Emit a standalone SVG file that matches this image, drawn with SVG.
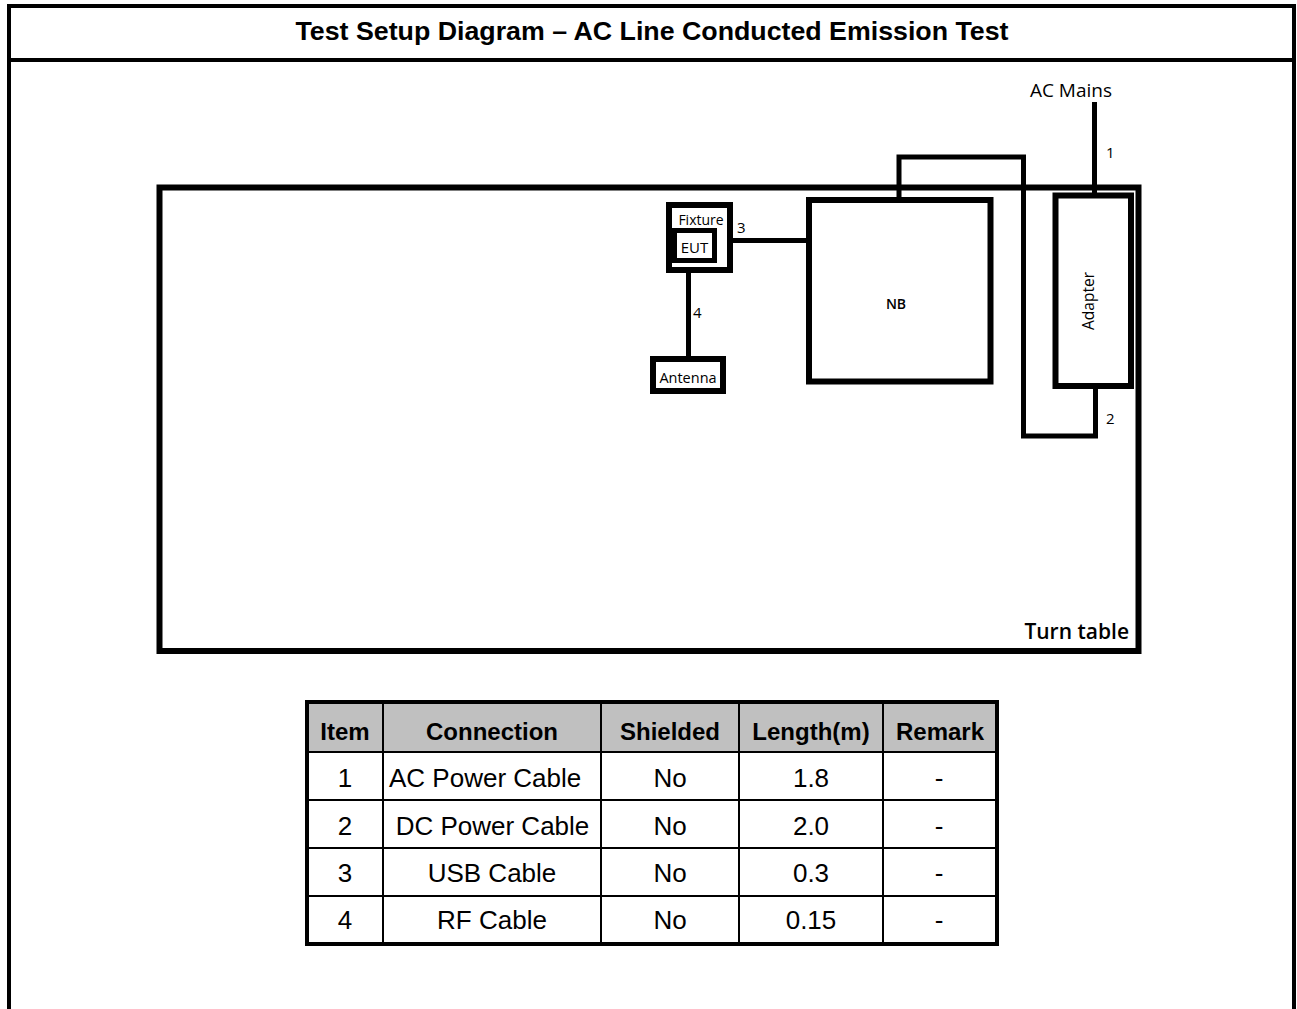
<svg xmlns="http://www.w3.org/2000/svg" width="1297" height="1009" viewBox="0 0 1297 1009">
<style>
.frame{fill:none;stroke:#000;stroke-width:4}
.box{fill:#fff;stroke:#000;stroke-width:6}
.cable{fill:none;stroke:#000;stroke-width:5}
.lbl{font-family:"Open Sans","Noto Sans",sans-serif;fill:#000}
.th{font-family:"Liberation Sans",Arial,sans-serif;font-weight:bold;font-size:24px;text-anchor:middle;fill:#000}
.td{font-family:"Liberation Sans",Arial,sans-serif;font-size:26px;text-anchor:middle;fill:#000}
.grid{stroke:#000;stroke-width:2}
</style>
<rect width="1297" height="1009" fill="#fff"/>
<g id="frame">
<path class="frame" d="M9,1009 V6 H1294 V1009"/>
<line class="frame" x1="9" y1="60" x2="1294" y2="60" stroke-width="3"/>
<text x="652" y="40" font-family="Liberation Sans,Arial,sans-serif" font-weight="bold" font-size="25" text-anchor="middle" textLength="713" lengthAdjust="spacingAndGlyphs">Test Setup Diagram – AC Line Conducted Emission Test</text>
</g>
<g id="turntable">
<rect x="159.5" y="187.5" width="979" height="463.5" fill="none" stroke="#000" stroke-width="6"/>
<text class="lbl" x="1129" y="639" font-size="21" font-weight="600" text-anchor="end">Turn table</text>
</g>
<g id="connectors">
<line class="cable" x1="1094.5" y1="102" x2="1094.5" y2="195"/>
<path class="cable" d="M899,200 V157 H1023.5 V436 H1095.5 V386"/>
<line class="cable" x1="730" y1="240.5" x2="809" y2="240.5"/>
<line class="cable" x1="688.5" y1="260" x2="688.5" y2="359"/>
<text class="lbl" x="1106" y="158" font-size="15">1</text>
<text class="lbl" x="1106" y="424" font-size="15">2</text>
<text class="lbl" x="737" y="233" font-size="15">3</text>
<text class="lbl" x="693" y="318" font-size="15">4</text>
</g>
<g id="ac-mains">
<text class="lbl" x="1071" y="97" font-size="19" text-anchor="middle">AC Mains</text>
</g>
<g id="nb">
<rect class="box" x="809" y="200" width="181.5" height="181.5"/>
<text class="lbl" x="896" y="309" font-size="14" font-weight="600" text-anchor="middle">NB</text>
</g>
<g id="adapter">
<rect class="box" x="1055.5" y="195.5" width="75.5" height="190.5"/>
<text class="lbl" x="0" y="0" font-size="15.5" text-anchor="middle" transform="translate(1094,301) rotate(-90)">Adapter</text>
</g>
<g id="fixture">
<rect class="box" x="669" y="205" width="61" height="65"/>
<text class="lbl" x="701" y="225" font-size="14" text-anchor="middle">Fixture</text>
</g>
<g id="eut">
<rect x="674.5" y="230.5" width="40" height="30" fill="#fff" stroke="#000" stroke-width="5"/>
<text class="lbl" x="694.5" y="253" font-size="15" text-anchor="middle">EUT</text>
</g>
<g id="antenna">
<rect class="box" x="653" y="359" width="70" height="32"/>
<text class="lbl" x="688" y="383" font-size="14.5" text-anchor="middle">Antenna</text>
</g>
<g id="table">
<rect x="307" y="702" width="690" height="50" fill="#c0c0c0"/>
<g class="grid">
<line x1="307" y1="752" x2="997" y2="752"/>
<line x1="307" y1="800" x2="997" y2="800"/>
<line x1="307" y1="848" x2="997" y2="848"/>
<line x1="307" y1="896" x2="997" y2="896"/>
<line x1="383" y1="702" x2="383" y2="944"/>
<line x1="601" y1="702" x2="601" y2="944"/>
<line x1="739" y1="702" x2="739" y2="944"/>
<line x1="883" y1="702" x2="883" y2="944"/>
</g>
<rect x="307" y="702" width="690" height="242" fill="none" stroke="#000" stroke-width="4"/>
<text class="th" x="345" y="740">Item</text>
<text class="th" x="492" y="740">Connection</text>
<text class="th" x="670" y="740">Shielded</text>
<text class="th" x="811" y="740">Length(m)</text>
<text class="th" x="940" y="740">Remark</text>
<text class="td" x="345" y="787">1</text>
<text class="td" x="389" y="787" style="text-anchor:start">AC Power Cable</text>
<text class="td" x="670" y="787">No</text>
<text class="td" x="811" y="787">1.8</text>
<text class="td" x="939" y="787">-</text>
<text class="td" x="345" y="835">2</text>
<text class="td" x="492.5" y="835">DC Power Cable</text>
<text class="td" x="670" y="835">No</text>
<text class="td" x="811" y="835">2.0</text>
<text class="td" x="939" y="835">-</text>
<text class="td" x="345" y="882">3</text>
<text class="td" x="492" y="882">USB Cable</text>
<text class="td" x="670" y="882">No</text>
<text class="td" x="811" y="882">0.3</text>
<text class="td" x="939" y="882">-</text>
<text class="td" x="345" y="929">4</text>
<text class="td" x="492" y="929">RF Cable</text>
<text class="td" x="670" y="929">No</text>
<text class="td" x="811" y="929">0.15</text>
<text class="td" x="939" y="929">-</text>
</g>
</svg>
